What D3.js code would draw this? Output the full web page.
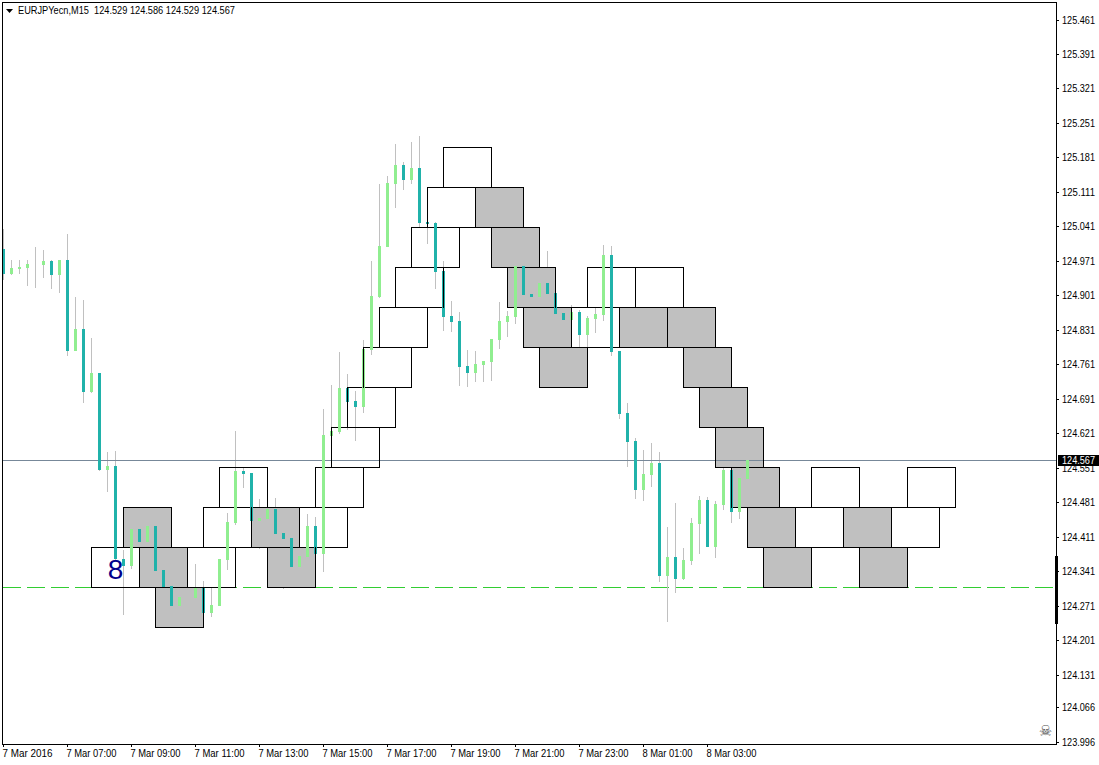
<!DOCTYPE html>
<html>
<head>
<meta charset="utf-8">
<script src="https://cdnjs.cloudflare.com/ajax/libs/d3/7.8.5/d3.min.js"></script>
<style>
html, body { margin: 0; padding: 0; background: #fff; }
svg { display: block; }
text { font-family: "Liberation Sans", sans-serif; font-size: 11px; fill: #000; }
.axis path { display: none; }
.axis line { stroke: #000; }
</style>
</head>
<body>
<div id="chart"></div>
<script>
var opens = [124.995,124.945,124.955,124.957,124.961,124.963,124.971,124.943,124.973,124.788,
  124.833,124.705,124.744,124.547,124.555,124.366,124.352,124.427,124.401,124.433,
  124.344,124.312,124.271,124.283,124.287,124.308,124.257,124.271,124.364,124.439,
  124.545,124.541,124.443,124.448,124.468,124.419,124.409,124.350,124.370,124.433,
  124.377,124.616,124.624,124.713,124.687,124.675,124.790,124.898,125.000,125.127,
  125.166,125.135,125.160,125.050,125.048,124.951,124.859,124.849,124.758,124.744,
  124.760,124.766,124.811,124.847,124.857,124.961,124.904,124.898,124.926,124.906,
  124.866,124.851,124.868,124.821,124.853,124.862,124.983,124.788,124.663,124.606,
  124.506,124.537,124.561,124.332,124.370,124.326,124.362,124.437,124.486,124.391,
  124.476,124.547,124.462,124.529];
var highs = [125.036,124.973,124.973,124.973,124.999,124.993,124.973,124.973,125.026,124.898,
  124.892,124.815,124.744,124.584,124.586,124.385,124.427,124.427,124.433,124.433,
  124.344,124.312,124.289,124.289,124.356,124.322,124.308,124.366,124.460,124.626,
  124.553,124.541,124.488,124.468,124.490,124.419,124.409,124.372,124.458,124.452,
  124.671,124.720,124.786,124.742,124.707,124.811,124.971,125.127,125.144,125.209,
  125.172,125.213,125.225,125.050,125.050,124.971,124.890,124.868,124.790,124.788,
  124.768,124.813,124.888,124.870,124.961,124.961,124.904,124.926,124.991,124.906,
  124.866,124.882,124.872,124.859,124.876,125.004,125.002,124.788,124.683,124.612,
  124.588,124.602,124.584,124.431,124.480,124.389,124.450,124.494,124.492,124.484,
  124.567,124.547,124.531,124.586];
var lows = [124.932,124.943,124.945,124.920,124.916,124.937,124.914,124.906,124.778,124.788,
  124.683,124.703,124.545,124.502,124.364,124.253,124.346,124.401,124.401,124.342,
  124.310,124.271,124.271,124.277,124.287,124.257,124.249,124.271,124.344,124.435,
  124.510,124.443,124.387,124.448,124.417,124.306,124.350,124.350,124.370,124.377,
  124.340,124.616,124.620,124.628,124.606,124.663,124.780,124.896,125.000,125.079,
  125.115,125.127,125.040,125.006,124.914,124.829,124.827,124.717,124.715,124.725,
  124.725,124.728,124.793,124.817,124.843,124.902,124.898,124.898,124.904,124.863,
  124.851,124.851,124.797,124.797,124.825,124.849,124.778,124.650,124.553,124.488,
  124.484,124.512,124.320,124.239,124.297,124.324,124.354,124.377,124.391,124.368,
  124.466,124.439,124.448,124.529];
var closes = [124.945,124.957,124.959,124.965,124.961,124.971,124.943,124.973,124.788,124.833,
  124.705,124.744,124.547,124.555,124.366,124.352,124.427,124.401,124.433,124.342,
  124.310,124.271,124.289,124.283,124.308,124.257,124.273,124.366,124.441,124.545,
  124.539,124.443,124.450,124.468,124.417,124.407,124.350,124.372,124.433,124.377,
  124.618,124.626,124.713,124.685,124.675,124.793,124.900,125.002,125.129,125.166,
  125.135,125.160,125.048,125.046,124.949,124.857,124.847,124.756,124.744,124.762,
  124.768,124.813,124.849,124.859,124.961,124.902,124.898,124.926,124.904,124.863,
  124.851,124.868,124.821,124.855,124.863,124.983,124.786,124.661,124.604,124.506,
  124.539,124.561,124.332,124.370,124.326,124.364,124.439,124.486,124.391,124.478,
  124.547,124.462,124.531,124.567];

// renko style blocks on top of the candles
var boxStart = [11,15,17,19,23,25,27,31,33,37,39,41,43,45,47,49,51,53,55,59,61,63,65,67,
  71,73,79,77,83,85,87,89,91,93,95,99,101,105,107,111,113];
var boxTop = [124.391,124.472,124.391,124.310,124.391,124.472,124.553,124.472,124.391,124.472,124.553,124.634,
  124.715,124.797,124.878,124.959,125.040,125.121,125.202,125.121,125.040,124.959,124.878,124.797,
  124.878,124.959,124.959,124.878,124.878,124.797,124.715,124.634,124.553,124.472,124.391,
  124.472,124.553,124.472,124.391,124.472,124.553];
var boxBottom = [124.310,124.391,124.310,124.228,124.310,124.391,124.472,124.391,124.310,124.391,124.472,124.553,
  124.634,124.715,124.797,124.878,124.959,125.040,125.121,125.040,124.959,124.878,124.797,124.715,
  124.797,124.878,124.878,124.797,124.797,124.715,124.634,124.553,124.472,124.391,124.310,
  124.391,124.472,124.391,124.310,124.391,124.472];
var boxDown = [0,1,1,1,0,0,0,1,1,0,0,0,0,0,0,0,0,0,0,1,1,1,1,1,
  0,0,0,1,1,1,1,1,1,1,1,0,0,1,1,0,0];
var boxBars = 6;

var priceTicks = [125.461,125.391,125.321,125.251,125.181,125.111,125.041,124.971,124.901,124.831,124.761,
  124.691,124.621,124.551,124.481,124.411,124.341,124.271,124.201,124.131,124.066,123.996];
var timeTicks = [0,8,16,24,32,40,48,56,64,72,80,88];
var timeLabels = ["7 Mar 2016","7 Mar 07:00","7 Mar 09:00","7 Mar 11:00","7 Mar 13:00","7 Mar 15:00",
  "7 Mar 17:00","7 Mar 19:00","7 Mar 21:00","7 Mar 23:00","8 Mar 01:00","8 Mar 03:00"];

var title = "EURJPYecn,M15  124.529 124.586 124.529 124.567";
var lastPrice = 124.567;
var dashedPrice = 124.310;
var sideBar = [124.372, 124.234];
var marker = {text: "8", bar: 14, price: 124.326};

var width = 1099,
    height = 765,
    left = 2,
    right = 1056,
    top_ = 2,
    bottom = 744;

var bull = "#90ee90", bear = "#20b2aa", wick = "#c0c0c0", down = "#c0c0c0";

var x = d3.scaleLinear().domain([0, 131]).range([3, 1051]);
var y = d3.scaleLinear().domain([123.996, 125.461]).rangeRound([741.5, 19.5]);

// the labels are squeezed, the chart font is narrower than anything installed
function squeeze(sel, w) {
  sel.attr("textLength", w).attr("lengthAdjust", "spacingAndGlyphs");
}

var svg = d3.select("#chart").append("svg")
    .attr("width", width)
    .attr("height", height);

svg.append("line")
    .attr("x1", left + 1).attr("x2", right)
    .attr("y1", y(dashedPrice) + 0.5).attr("y2", y(dashedPrice) + 0.5)
    .attr("stroke", "#32cd32")
    .attr("stroke-dasharray", "18 6");

var bars = d3.range(opens.length);

svg.append("g").selectAll("rect")
    .data(bars)
  .enter().append("rect")
    .attr("x", function(d) { return x(d); })
    .attr("width", 1)
    .attr("y", function(d) { return y(highs[d]); })
    .attr("height", function(d) { return y(lows[d]) - y(highs[d]); })
    .attr("fill", wick);

var boxes = d3.range(boxStart.length);

svg.append("g").selectAll("rect")
    .data(boxes.filter(function(d) { return boxDown[d]; }))
  .enter().append("rect")
    .attr("x", function(d) { return x(boxStart[d]); })
    .attr("width", function(d) { return x(boxStart[d] + boxBars) - x(boxStart[d]); })
    .attr("y", function(d) { return y(boxTop[d]); })
    .attr("height", function(d) { return y(boxBottom[d]) - y(boxTop[d]); })
    .attr("fill", down);

svg.append("line")
    .attr("x1", left + 1).attr("x2", right)
    .attr("y1", y(lastPrice) + 0.5).attr("y2", y(lastPrice) + 0.5)
    .attr("stroke", "#778899");

svg.append("g").selectAll("rect")
    .data(boxes)
  .enter().append("rect")
    .attr("x", function(d) { return x(boxStart[d]) + 0.5; })
    .attr("width", function(d) { return x(boxStart[d] + boxBars) - x(boxStart[d]); })
    .attr("y", function(d) { return y(boxTop[d]) + 0.5; })
    .attr("height", function(d) { return y(boxBottom[d]) - y(boxTop[d]); })
    .attr("fill", "none")
    .attr("stroke", "#000");

svg.append("g").selectAll("rect")
    .data(bars)
  .enter().append("rect")
    .attr("x", function(d) { return x(d) - 1; })
    .attr("width", 3)
    .attr("y", function(d) { return y(Math.max(opens[d], closes[d])); })
    .attr("height", function(d) { return Math.abs(y(opens[d]) - y(closes[d])); })
    .attr("fill", function(d) { return closes[d] >= opens[d] ? bull : bear; });

// box sides stay visible through the candle bodies
svg.append("g").selectAll("path")
    .data(boxes)
  .enter().append("path")
    .attr("d", function(d) {
      var x0 = x(boxStart[d]) + 0.5, x1 = x(boxStart[d] + boxBars) + 0.5,
          y0 = y(boxTop[d]), y1 = y(boxBottom[d]) + 1;
      return "M" + x0 + "," + y0 + "V" + y1 + "M" + x1 + "," + y0 + "V" + y1;
    })
    .attr("fill", "none")
    .attr("stroke", "#000");

svg.append("text")
    .attr("x", x(marker.bar) + 0.5)
    .attr("y", y(marker.price))
    .attr("text-anchor", "middle")
    .style("font-size", "28px")
    .style("fill", "#00008b")
    .text(marker.text);

svg.append("rect")
    .attr("x", left + 0.5).attr("y", top_ + 0.5)
    .attr("width", right - left).attr("height", bottom - top_)
    .attr("fill", "none")
    .attr("stroke", "#000");

var yAxis = svg.append("g")
    .attr("class", "axis")
    .attr("transform", "translate(" + right + ",0)")
    .call(d3.axisRight(y).tickValues(priceTicks).tickSize(3).tickPadding(3).tickFormat(d3.format(".3f")));

yAxis.selectAll("text").attr("x", 6).call(squeeze, 33);

var xAxis = svg.append("g")
    .attr("class", "axis")
    .attr("transform", "translate(0," + bottom + ")")
    .call(d3.axisBottom(x).tickValues(timeTicks).tickSize(3).tickFormat(function(d, i) { return timeLabels[i]; }));

xAxis.selectAll("text")
    .attr("text-anchor", "start")
    .attr("x", -1)
    .attr("y", 5)
    .attr("dy", "0.71em")
    .call(squeeze, 50);

svg.append("rect")
    .attr("x", 1055).attr("width", 3)
    .attr("y", y(sideBar[0]))
    .attr("height", y(sideBar[1]) - y(sideBar[0]))
    .attr("fill", "#000");

svg.append("rect")
    .attr("x", 1058).attr("width", 41)
    .attr("y", y(lastPrice) - 5).attr("height", 11)
    .attr("fill", "#000");

svg.append("text")
    .attr("x", 1062)
    .attr("y", y(lastPrice) + 4)
    .style("fill", "#fff")
    .text(d3.format(".3f")(lastPrice))
    .call(squeeze, 33);

svg.append("path")
    .attr("d", "M6,9L13,9L9.5,13Z")
    .attr("fill", "#000");

svg.append("text")
    .attr("x", 18)
    .attr("y", 14)
    .attr("xml:space", "preserve")
    .style("white-space", "pre")
    .text(title)
    .call(squeeze, 217);

svg.append("text")
    .attr("x", 1045.5)
    .attr("y", 736)
    .attr("text-anchor", "middle")
    .style("font-family", "'DejaVu Sans'")
    .style("font-size", "15px")
    .style("fill", "#505050")
    .text("\u2620");
</script>
</body>
</html>
